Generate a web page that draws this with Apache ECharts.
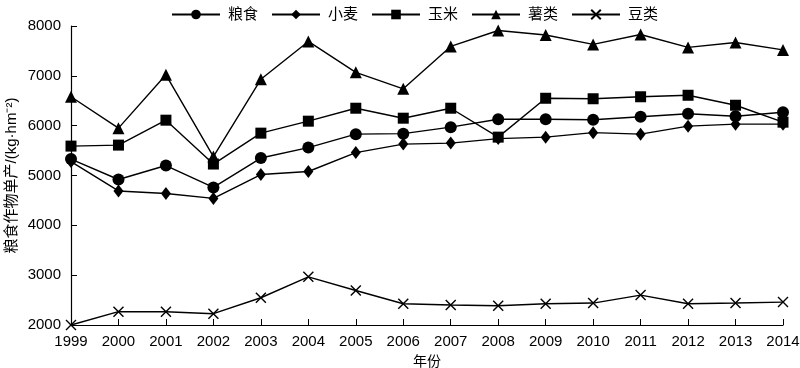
<!DOCTYPE html>
<html>
<head>
<meta charset="utf-8">
<script src="https://cdn.jsdelivr.net/npm/echarts@6/dist/echarts.min.js"></script>
<style>html,body{margin:0;padding:0;background:#fff}#c{width:800px;height:368px}</style>
</head>
<body>
<div id="c"></div>
<script>
const years = ['1999','2000','2001','2002','2003','2004','2005','2006','2007','2008','2009','2010','2011','2012','2013','2014'];
const grain  = [5330,4920,5200,4760,5350,5560,5830,5840,5970,6130,6130,6120,6180,6240,6190,6270];
const wheat  = [5280,4690,4640,4540,5020,5080,5460,5630,5650,5740,5770,5860,5830,5990,6030,6030];
const maize  = [5590,5610,6110,5230,5850,6090,6350,6150,6350,5770,6550,6540,6580,6610,6410,6070];
const tuber  = [6580,5950,7020,5380,6930,7690,7070,6740,7590,7910,7820,7630,7830,7570,7670,7520];
const bean   = [2000,2267,2267,2227,2547,2967,2693,2427,2400,2387,2427,2440,2600,2427,2440,2460];
const names  = ['粮食','小麦','玉米','薯类','豆类'];
const yTicks = {min:2000, max:8000, interval:1000};

const FONT = '"Liberation Sans", Arial, "Noto Sans CJK SC", sans-serif';
const crossPath = 'path://M0,0L10,10M10,0L0,10';
function mk(name, data, symbol, size, extra) {
  return Object.assign({
    name: name, type: 'line', data: data, symbol: symbol, symbolSize: size,
    showAllSymbol: true,
    lineStyle: {color: '#000', width: 1.4},
    itemStyle: {color: '#000'},
    emphasis: {disabled: true}
  }, extra || {});
}
const chart = echarts.init(document.getElementById('c'), null, {renderer: 'canvas'});
chart.setOption({
  animation: false,
  backgroundColor: '#fff',
  textStyle: {fontFamily: FONT},
  legend: {
    top: 2, left: 166,
    itemWidth: 48, itemHeight: 12, itemGap: 13,
    textStyle: {fontSize: 15, color: '#000', fontFamily: FONT, padding: [0,0,0,3]},
    data: names
  },
  grid: {left: 71, right: 17, top: 26, bottom: 43, containLabel: false, outerBoundsMode: 'none'},
  xAxis: {
    type: 'category', data: years, boundaryGap: false,
    name: '年份', nameLocation: 'middle', nameGap: 30, nameMoveOverlap: false,
    nameTextStyle: {fontSize: 14, color: '#000', fontFamily: FONT},
    axisLine: {lineStyle: {color: '#000', width: 1.2}},
    axisTick: {inside: true, length: 6, alignWithLabel: true, lineStyle: {color: '#000'}},
    axisLabel: {fontSize: 15, color: '#000', margin: 9, interval: 0}
  },
  yAxis: {
    type: 'value', min: yTicks.min, max: yTicks.max, interval: yTicks.interval,
    name: '粮食作物单产/(kg·hm⁻²)', nameLocation: 'middle', nameGap: 52, nameRotate: 90,
    nameMoveOverlap: false,
    nameTextStyle: {fontSize: 15, color: '#000', fontFamily: FONT},
    axisLine: {show: true, lineStyle: {color: '#000', width: 1.2}},
    axisTick: {show: true, inside: true, length: 6, lineStyle: {color: '#000'}},
    axisLabel: {fontSize: 15, color: '#000', margin: 10, formatter: v => String(v)},
    splitLine: {show: false}
  },
  series: [
    mk(names[0], grain, 'circle', 12),
    mk(names[1], wheat, 'diamond', [10, 13]),
    mk(names[2], maize, 'rect', 11),
    mk(names[3], tuber, 'triangle', 12),
    mk(names[4], bean, crossPath, 10, {itemStyle: {color: 'rgba(0,0,0,0)', borderColor: '#000', borderWidth: 1.4}})
  ]
});
</script>
</body>
</html>
